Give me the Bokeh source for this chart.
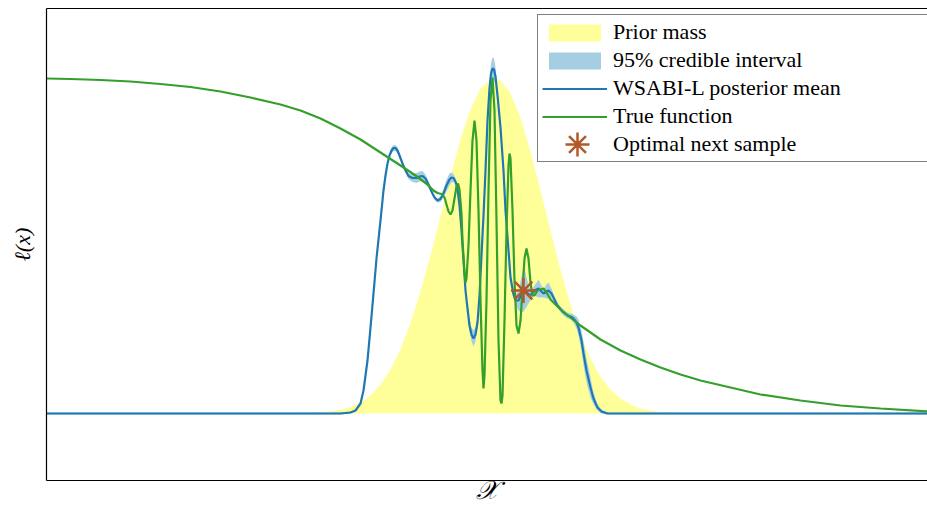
import numpy as np
from bokeh.plotting import figure
from bokeh.models import Range1d, LinearAxis, FixedTicker, Legend, LegendItem
from bokeh.embed import file_html
from bokeh.resources import INLINE

# ---- data (arbitrary units) ----
prior_x = [0.00, 2.54, 2.64, 2.74, 2.84, 2.94, 3.04, 3.14, 3.24, 3.34, 3.44, 3.54, 3.64, 3.74,
           3.84, 3.94, 4.04, 4.14, 4.24, 4.34, 4.44, 4.49, 4.54, 4.64, 4.74, 4.84, 4.94, 5.04,
           5.14, 5.24, 5.34, 5.44, 5.54, 5.64, 5.74, 5.84, 5.94, 6.04, 6.14, 6.24, 6.34, 6.44, 8.81]
prior_y = [0.00, 0.004, 0.007, 0.012, 0.022, 0.038, 0.065, 0.11, 0.18, 0.29, 0.44, 0.64, 0.90, 1.22,
           1.58, 1.97, 2.37, 2.74, 3.04, 3.25, 3.34, 3.35, 3.33, 3.20, 2.96, 2.62, 2.23, 1.83,
           1.44, 1.09, 0.79, 0.55, 0.37, 0.24, 0.15, 0.09, 0.05, 0.027, 0.015, 0.007, 0.004, 0.00, 0.00]

true_x = [0.00, 0.24, 0.54, 0.84, 1.14, 1.44, 1.74, 2.04, 2.34, 2.54, 2.74, 2.94, 3.14, 3.34,
          3.54, 3.69, 3.81, 3.87, 3.91, 3.95, 3.98, 4.00, 4.02, 4.04, 4.06, 4.08, 4.10, 4.115,
          4.13, 4.15, 4.16, 4.18, 4.19, 4.20, 4.22, 4.24, 4.26, 4.28, 4.30, 4.32, 4.34, 4.36,
          4.37, 4.38, 4.40, 4.42, 4.44, 4.46, 4.48, 4.50, 4.52, 4.54, 4.55, 4.56, 4.58, 4.60,
          4.62, 4.63, 4.64, 4.66, 4.68, 4.70, 4.72, 4.74, 4.76, 4.78, 4.80, 4.82, 4.84, 4.86,
          4.88, 4.91, 4.94, 4.97, 5.00, 5.04, 5.14, 5.24, 5.34, 5.44, 5.54, 5.74, 5.94, 6.14,
          6.34, 6.54, 6.84, 7.14, 7.54, 7.94, 8.34, 8.81]
true_y = [3.35, 3.345, 3.335, 3.32, 3.295, 3.265, 3.22, 3.16, 3.09, 3.03, 2.95, 2.85, 2.74, 2.61,
          2.48, 2.38, 2.29, 2.23, 2.205, 2.195, 2.16, 2.09, 2.02, 1.99, 2.03, 2.15, 2.27, 2.30,
          2.24, 2.00, 1.73, 1.41, 1.31, 1.35, 1.68, 2.23, 2.73, 2.93, 2.73, 2.03, 1.13, 0.43,
          0.25, 0.38, 1.13, 2.23, 3.13, 3.36, 3.03, 1.93, 0.73, 0.13, 0.10, 0.18, 0.93, 1.83,
          2.48, 2.60, 2.55, 2.03, 1.33, 0.88, 0.80, 0.93, 1.23, 1.55, 1.65, 1.55, 1.31, 1.18,
          1.18, 1.23, 1.24, 1.25, 1.21, 1.14, 1.04, 0.96, 0.88, 0.81, 0.74, 0.63, 0.54, 0.46,
          0.39, 0.33, 0.26, 0.19, 0.13, 0.08, 0.05, 0.02]

mean_x = [0.00, 2.94, 3.04, 3.09, 3.14, 3.17, 3.21, 3.24, 3.27, 3.30, 3.34, 3.37, 3.39, 3.41,
          3.43, 3.45, 3.47, 3.49, 3.51, 3.53, 3.56, 3.59, 3.62, 3.66, 3.70, 3.73, 3.76, 3.79,
          3.82, 3.85, 3.88, 3.91, 3.94, 3.97, 4.00, 4.03, 4.05, 4.07, 4.09, 4.11, 4.13, 4.15,
          4.17, 4.19, 4.21, 4.23, 4.25, 4.27, 4.29, 4.31, 4.33, 4.35, 4.37, 4.39, 4.41, 4.43,
          4.445, 4.46, 4.475, 4.49, 4.51, 4.54, 4.57, 4.59, 4.62, 4.64, 4.67, 4.69, 4.72, 4.75,
          4.77, 4.79, 4.82, 4.85, 4.88, 4.92, 4.95, 4.97, 5.00, 5.02, 5.05, 5.08, 5.11, 5.16,
          5.21, 5.24, 5.27, 5.30, 5.32, 5.35, 5.37, 5.40, 5.44, 5.47, 5.51, 5.55, 5.61, 8.81]
mean_y = [0.00, 0.00, 0.01, 0.03, 0.10, 0.23, 0.53, 0.86, 1.20, 1.55, 1.93, 2.23, 2.38, 2.50,
          2.58, 2.63, 2.655, 2.655, 2.63, 2.58, 2.50, 2.43, 2.375, 2.355, 2.355, 2.37, 2.375, 2.35,
          2.29, 2.22, 2.16, 2.13, 2.145, 2.20, 2.28, 2.34, 2.36, 2.355, 2.32, 2.25, 2.08, 1.83,
          1.53, 1.23, 1.05, 0.88, 0.79, 0.75, 0.79, 0.91, 1.18, 1.58, 1.98, 2.43, 2.93, 3.25,
          3.40, 3.45, 3.44, 3.37, 3.18, 2.86, 2.43, 2.03, 1.63, 1.36, 1.19, 1.13, 1.13, 1.19,
          1.24, 1.23, 1.19, 1.19, 1.23, 1.25, 1.22, 1.20, 1.22, 1.23, 1.20, 1.14, 1.08, 1.02,
          0.98, 0.97, 0.95, 0.91, 0.86, 0.73, 0.60, 0.43, 0.26, 0.15, 0.06, 0.02, 0.00, 0.00]
band_half = [0.01, 0.01, 0.01, 0.01, 0.01, 0.01, 0.01, 0.01, 0.01, 0.01, 0.01, 0.01, 0.01, 0.02,
             0.02, 0.03, 0.03, 0.03, 0.03, 0.02, 0.02, 0.02, 0.03, 0.04, 0.05, 0.05, 0.05, 0.04,
             0.03, 0.02, 0.02, 0.02, 0.03, 0.04, 0.06, 0.06, 0.05, 0.04, 0.03, 0.02, 0.02, 0.02,
             0.02, 0.03, 0.04, 0.06, 0.07, 0.08, 0.07, 0.05, 0.03, 0.02, 0.02, 0.03, 0.05, 0.08,
             0.10, 0.11, 0.11, 0.09, 0.05, 0.02, 0.02, 0.02, 0.02, 0.02, 0.03, 0.05, 0.10, 0.18,
             0.22, 0.18, 0.09, 0.04, 0.05, 0.09, 0.06, 0.04, 0.07, 0.08, 0.05, 0.03, 0.02, 0.03,
             0.03, 0.03, 0.04, 0.06, 0.08, 0.10, 0.12, 0.12, 0.10, 0.06, 0.03, 0.02, 0.01, 0.01]

next_x = [4.77]
next_y = [1.23]

labels = ["Prior mass", "95% credible interval", "WSABI-L posterior mean",
          "True function", "Optimal next sample"]

# ---- colours ----
c_prior = "#FFFF99"
c_band = "#A6CEE3"
c_mean = "#1F78B4"
c_true = "#33A02C"
c_next = "#B15928"
serif = "'Liberation Serif', serif"

p = figure(width=927, height=508, output_backend="svg", toolbar_location=None,
           x_range=Range1d(0, 8.81), y_range=Range1d(-0.67, 4.05),
           x_axis_location=None, y_axis_location=None,
           min_border_left=46, min_border_right=0, min_border_top=8, min_border_bottom=28)
p.grid.visible = False
p.outline_line_color = None
p.background_fill_color = "white"
p.border_fill_color = "white"

def bare_axis(label=None, size="22px"):
    ax = LinearAxis(ticker=FixedTicker(ticks=[]))
    ax.major_tick_out = 0
    ax.major_tick_in = 0
    ax.minor_tick_out = 0
    ax.minor_tick_in = 0
    ax.major_label_text_font_size = "0px"
    ax.major_label_standoff = 0
    ax.axis_line_color = "black"
    ax.axis_line_width = 1.2
    if label is not None:
        ax.axis_label = label
        ax.axis_label_text_font = serif
        ax.axis_label_text_font_style = "italic"
        ax.axis_label_text_font_size = size
        ax.axis_label_text_color = "black"
    return ax

ax_left = bare_axis("ℓ(x)", "22px")
ax_left.axis_label_standoff = 12
p.add_layout(ax_left, "left")
ax_bottom = bare_axis("𝒳", "26px")
ax_bottom.axis_label_standoff = -5
p.add_layout(ax_bottom, "below")
ax_top = bare_axis()
p.add_layout(ax_top, "above")

mx = np.array(mean_x)
my = np.array(mean_y)
bh = np.array(band_half)

r_prior = p.varea(x=prior_x, y1=[0.0] * len(prior_x), y2=prior_y, fill_color=c_prior)
r_band = p.varea(x=mx, y1=my - bh, y2=my + bh, fill_color=c_band)
r_mean = p.line(mean_x, mean_y, line_color=c_mean, line_width=2.2)
r_true = p.line(true_x, true_y, line_color=c_true, line_width=2.2)
r_next = p.scatter(next_x, next_y, marker="asterisk", size=25, line_color=c_next, line_width=2.5)
# placeholder so the legend row keeps its place (the large legend star is drawn by legend2)
r_blank = p.scatter([], [], marker="asterisk", line_alpha=0, fill_alpha=0)

legend = Legend(items=[LegendItem(label=labels[0], renderers=[r_prior]),
                       LegendItem(label=labels[1], renderers=[r_band]),
                       LegendItem(label=labels[2], renderers=[r_mean]),
                       LegendItem(label=labels[3], renderers=[r_true]),
                       LegendItem(label=labels[4], renderers=[r_blank])],
                location=(491, 318))
legend.label_text_font = serif
legend.label_text_font_size = "22px"
legend.label_text_color = "black"
legend.padding = 4
legend.spacing = 2
legend.glyph_width = 65
legend.glyph_height = 21
legend.label_height = 21
legend.label_standoff = 6
legend.label_width = 311
legend.margin = 0
legend.border_line_color = "black"
legend.border_line_width = 1
legend.background_fill_alpha = 1.0
p.add_layout(legend)

legend2 = Legend(items=[LegendItem(label="", renderers=[r_next])], location=(501, 306))
legend2.padding = 0
legend2.spacing = 0
legend2.glyph_width = 60
legend2.glyph_height = 60
legend2.label_height = 20
legend2.label_standoff = 0
legend2.label_width = 0
legend2.margin = 0
legend2.border_line_color = None
legend2.background_fill_alpha = 0.0
p.add_layout(legend2)

open("out.html", "w").write(file_html(p, INLINE))
